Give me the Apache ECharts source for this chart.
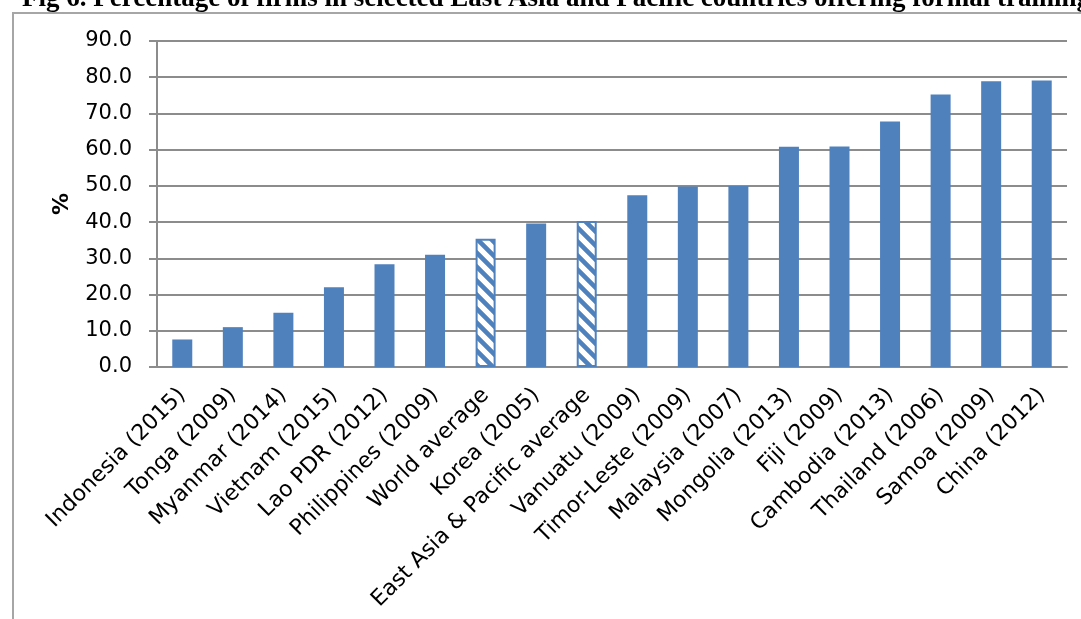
<!DOCTYPE html>
<html>
<head>
<meta charset="utf-8">
<script src="https://cdn.jsdelivr.net/npm/echarts@6/dist/echarts.min.js"></script>
<style>
  html, body { margin: 0; padding: 0; background: #fff; }
  #chart { width: 1081px; height: 619px; }
</style>
</head>
<body>
<div id="chart"></div>
<script>
// Share of firms offering formal training, by economy (survey year)
const categories = [
  'Indonesia (2015)', 'Tonga (2009)', 'Myanmar (2014)', 'Vietnam (2015)',
  'Lao PDR (2012)', 'Philippines (2009)', 'World average', 'Korea (2005)',
  'East Asia & Pacific average', 'Vanuatu (2009)', 'Timor-Leste (2009)',
  'Malaysia (2007)', 'Mongolia (2013)', 'Fiji (2009)', 'Cambodia (2013)',
  'Thailand (2006)', 'Samoa (2009)', 'China (2012)'
];
const values = [
  7.6, 11.0, 15.0, 22.0, 28.4, 31.0, 35.4, 39.6,
  40.3, 47.4, 49.8, 50.0, 60.8, 60.9, 67.8, 75.2, 78.9, 79.1
];
// Averages are drawn hatched, economies solid
const averageCategories = ['World average', 'East Asia & Pacific average'];
const yTicks = { min: 0, max: 90, step: 10 };

const titleText = 'Fig 6. Percentage of firms in selected East Asia and Pacific countries offering formal training';
const BLUE = '#4f81bd';
const LABEL_FONT = '"DejaVu Sans", sans-serif';

// Diagonal hatch tile for the average bars
function hatchPattern() {
  const s = 14;
  const c = document.createElement('canvas');
  c.width = s; c.height = s;
  const g = c.getContext('2d');
  g.fillStyle = '#ffffff';
  g.fillRect(0, 0, s, s);
  g.strokeStyle = BLUE;
  g.lineWidth = 4.6;
  g.beginPath();
  for (const k of [-1, 0, 1]) {
    g.moveTo(-s, -s + k * s);
    g.lineTo(2 * s, 2 * s + k * s);
  }
  g.stroke();
  return c;
}
const hatch = { image: hatchPattern(), repeat: 'repeat' };

const seriesData = categories.map((name, i) => {
  if (averageCategories.includes(name)) {
    return {
      value: values[i],
      itemStyle: { color: hatch, borderColor: BLUE, borderWidth: 2 }
    };
  }
  return { value: values[i] };
});

const chart = echarts.init(document.getElementById('chart'), null, { renderer: 'canvas' });
chart.setOption({
  animation: false,
  backgroundColor: '#ffffff',
  graphic: [
    {
      type: 'rect',
      silent: true,
      shape: { x: 13, y: 13, width: 1200, height: 800 },
      style: { fill: 'none', stroke: '#a6a6a6', lineWidth: 2 }
    },
    {
      type: 'text',
      silent: true,
      left: 22,
      top: -14,
      style: {
        text: titleText,
        font: 'bold 27px "Liberation Serif", "Times New Roman", serif',
        fill: '#000'
      }
    }
  ],
  grid: {
    left: 157, right: 14, top: 41, bottom: 252,
    containLabel: false,
    outerBoundsMode: 'none'
  },
  xAxis: {
    type: 'category',
    data: categories,
    axisLine: { lineStyle: { color: '#8c8c8c', width: 2 } },
    axisTick: { show: false },
    axisLabel: {
      interval: 0,
      rotate: 45,
      margin: 25,
      verticalAlign: 'middle',
      padding: [2, 0, 0, 0],
      color: '#000',
      fontFamily: LABEL_FONT,
      fontSize: 22
    }
  },
  yAxis: {
    type: 'value',
    min: yTicks.min,
    max: yTicks.max,
    interval: yTicks.step,
    name: '%',
    nameLocation: 'middle',
    nameRotate: 90,
    nameGap: 84,
    nameTextStyle: { color: '#000', fontWeight: 'bold', fontSize: 22, fontFamily: LABEL_FONT },
    axisLine: { show: true, lineStyle: { color: '#8c8c8c', width: 2 } },
    axisTick: { show: true, length: 8, lineStyle: { color: '#8c8c8c', width: 2 } },
    splitLine: { lineStyle: { color: '#8c8c8c', width: 2 } },
    axisLabel: {
      margin: 25,
      color: '#000',
      fontFamily: LABEL_FONT,
      fontSize: 21,
      formatter: v => v.toFixed(1)
    }
  },
  series: [{
    type: 'bar',
    data: seriesData,
    barWidth: 20,
    itemStyle: { color: BLUE }
  }]
});
</script>
</body>
</html>
